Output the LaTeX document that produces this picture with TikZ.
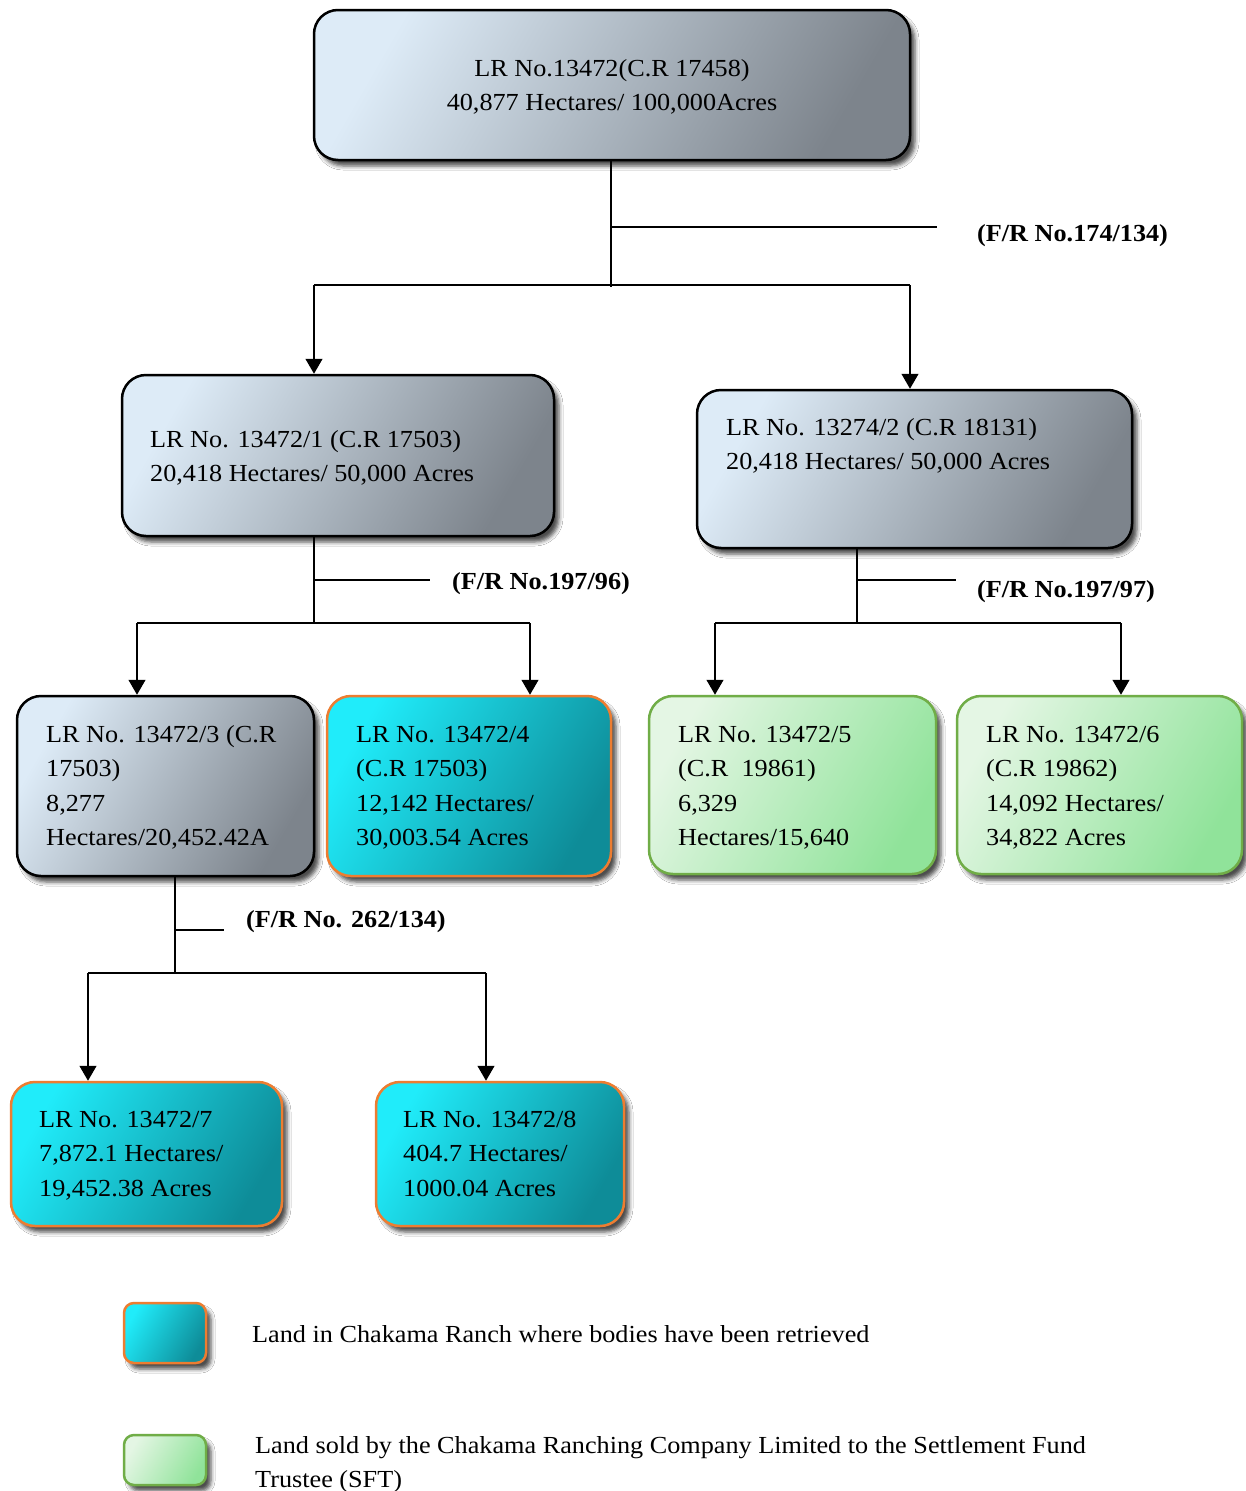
\documentclass[tikz,border=0pt]{standalone}
\usepackage{fontspec}
\setmainfont{Liberation Serif}[FakeStretch=1.07]
\usetikzlibrary{shadows.blur, arrows.meta}
\definecolor{gA}{HTML}{DDEBF7}
\definecolor{gB}{HTML}{7D848C}
\definecolor{cA}{HTML}{20ECFA}
\definecolor{cB}{HTML}{0E8C98}
\definecolor{oR}{HTML}{ED7D31}
\definecolor{grA}{HTML}{E4F6E4}
\definecolor{grB}{HTML}{90E39A}
\definecolor{grL}{HTML}{70AD47}
\begin{document}
\begin{tikzpicture}[x=1pt,y=-1pt,
 box/.style={rectangle, rounded corners=24pt, inner sep=0pt, line width=2.5pt,
   blur shadow={shadow xshift=5pt, shadow yshift=-6pt, shadow blur radius=4pt, shadow opacity=70}},
 graybox/.style={box, draw=black, top color=gA, bottom color=gB, shading angle=60},
 cyanbox/.style={box, draw=oR, top color=cA, bottom color=cB, shading angle=60},
 greenbox/.style={box, draw=grL, top color=grA, bottom color=grB, shading angle=60},
 txt/.style={inner sep=0pt, align=left, anchor=north west, font=\fontsize{24.5}{34.5}\selectfont},
 lbl/.style={inner sep=0pt, anchor=base west, font=\fontsize{24.5}{34.5}\selectfont\bfseries},
 con/.style={line width=1.3pt},
 arr/.style={con, -{Triangle[width=17pt,length=15pt]}}]
\fill[white, use as bounding box] (0,0) rectangle (1246,1491);

% boxes
\node[graybox, minimum width=596pt, minimum height=150pt] (top) at (612,85) {};
\node[graybox, minimum width=432pt, minimum height=161pt] (A) at (338,455.5) {};
\node[graybox, minimum width=435pt, minimum height=158pt] (B) at (914.5,469) {};
\node[graybox, minimum width=297pt, minimum height=180pt] (C) at (165.5,786) {};
\node[cyanbox, minimum width=284pt, minimum height=180pt] (D) at (469,786) {};
\node[greenbox, minimum width=287pt, minimum height=178pt] (E) at (792.5,785) {};
\node[greenbox, minimum width=285pt, minimum height=178pt] (F) at (1099.5,785) {};
\node[cyanbox, minimum width=271pt, minimum height=144pt] (G) at (146.5,1154) {};
\node[cyanbox, minimum width=248pt, minimum height=144pt] (H) at (500,1154) {};
\node[cyanbox, rounded corners=10pt, minimum width=82pt, minimum height=60pt] (L1) at (165,1333) {};
\node[greenbox, rounded corners=10pt, minimum width=82pt, minimum height=50pt] (L2) at (165,1460) {};

% texts
\node[txt, align=center, anchor=north] (ttop) at (612,51.85) {\strut LR No.13472(C.R 17458)\\40,877 Hectares/ 100,000Acres};
\node[txt] (tA) at (150,422.85) {\strut LR No. 13472/1 (C.R 17503)\\20,418 Hectares/ 50,000 Acres};
\node[txt] (tB) at (726,410.85) {\strut LR No. 13274/2 (C.R 18131)\\20,418 Hectares/ 50,000 Acres};
\node[txt] (tC) at (46,717.85) {\strut LR No. 13472/3 (C.R\\17503)\\8,277\\Hectares/20,452.42A};
\node[txt] (tD) at (356,717.85) {\strut LR No. 13472/4\\(C.R 17503)\\12,142 Hectares/\\30,003.54 Acres};
\node[txt] (tE) at (678,717.85) {\strut LR No. 13472/5\\(C.R\ \ 19861)\\6,329\\Hectares/15,640};
\node[txt] (tF) at (986,717.85) {\strut LR No. 13472/6\\(C.R 19862)\\14,092 Hectares/\\34,822 Acres};
\node[txt] (tG) at (39,1102.85) {\strut LR No. 13472/7\\7,872.1 Hectares/\\19,452.38 Acres};
\node[txt] (tH) at (403,1102.85) {\strut LR No. 13472/8\\404.7 Hectares/\\1000.04 Acres};
\node[lbl, font=\fontsize{24.5}{34.5}\selectfont] (tL1) at (252,1342) {Land in Chakama Ranch where bodies have been retrieved};
\node[txt] (tL2) at (255,1428.85) {\strut Land sold by the Chakama Ranching Company Limited to the Settlement Fund\\Trustee (SFT)};

% labels
\node[lbl] (f1) at (977,241) {(F/R No.174/134)};
\node[lbl] (f2) at (452,589) {(F/R No.197/96)};
\node[lbl] (f3) at (977,597) {(F/R No.197/97)};
\node[lbl] (f4) at (246,927) {(F/R No. 262/134)};

% connectors level 1
\coordinate (j0) at (611,287);
\coordinate (e1) at (937,227);
\coordinate (h1) at (314,285);
\coordinate (h2) at (910,285);
\draw[con] (j0 |- top.south) -- (j0);
\draw[con] (j0 |- e1) -- (e1);
\draw[con] (h1) -- (h2);
\draw[arr] (h1) -- (h1 |- A.north);
\draw[arr] (h2) -- (h2 |- B.north);

% connectors from A
\coordinate (a0) at (314,623);
\coordinate (ea) at (430,580);
\coordinate (a1) at (137,623);
\coordinate (a2) at (530,623);
\draw[con] (a0 |- A.south) -- (a0);
\draw[con] (a0 |- ea) -- (ea);
\draw[con] (a1) -- (a2);
\draw[arr] (a1) -- (a1 |- C.north);
\draw[arr] (a2) -- (a2 |- D.north);

% connectors from B
\coordinate (b0) at (857,623);
\coordinate (eb) at (956,580);
\coordinate (b1) at (715,623);
\coordinate (b2) at (1121,623);
\draw[con] (b0 |- B.south) -- (b0);
\draw[con] (b0 |- eb) -- (eb);
\draw[con] (b1) -- (b2);
\draw[arr] (b1) -- (b1 |- E.north);
\draw[arr] (b2) -- (b2 |- F.north);

% connectors from C
\coordinate (c0) at (175,973);
\coordinate (ec) at (224,930);
\coordinate (c1) at (88,973);
\coordinate (c2) at (486,973);
\draw[con] (c0 |- C.south) -- (c0);
\draw[con] (c0 |- ec) -- (ec);
\draw[con] (c1) -- (c2);
\draw[arr] (c1) -- (c1 |- G.north);
\draw[arr] (c2) -- (c2 |- H.north);
\end{tikzpicture}
\end{document}
